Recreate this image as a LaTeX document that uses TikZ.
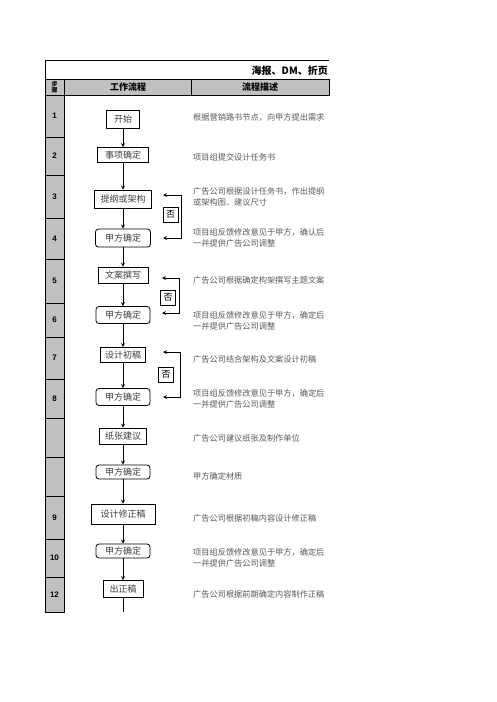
\documentclass[tikz,border=0pt]{standalone}
\usepackage{fontspec}
\setmainfont{Noto Sans CJK SC}
\newfontfamily\numfont{Liberation Sans}
\definecolor{cellgray}{HTML}{C0C0C0}
\begin{document}
\begin{tikzpicture}[x=1pt, y=-1pt,
    box/.style={rectangle, draw, line width=0.8pt, minimum height=16pt, inner xsep=4pt, inner ysep=1pt, font=\fontsize{9}{10}\selectfont, text=black!75},
    rbox/.style={box, rounded corners=3pt},
    nobox/.style={rectangle, draw, line width=0.7pt, inner sep=1.5pt, minimum width=15pt, minimum height=15pt, font=\fontsize{9}{10}\selectfont},
    arrow/.style={->, >=stealth, line width=0.8pt},
    backarrow/.style={<->, >=stealth, line width=0.8pt},
    desc/.style={anchor=west, align=left, inner sep=0pt, font=\fontsize{8.2}{11}\selectfont, text=black!65},
    stepnum/.style={font=\numfont\bfseries\fontsize{8}{9}\selectfont},
    head/.style={font=\bfseries\fontsize{9}{10}\selectfont},
    grid/.style={line width=0.8pt}
]
\fill[white] (0,0) rectangle (496,702);
\useasboundingbox (0,0) rectangle (496,702);

% 表头
\draw[grid] (45,79) -- (45,60) -- (329,60);
\draw[grid] (45,79) -- (329,79);
\node[anchor=east, font=\bfseries\fontsize{10}{11}\selectfont, inner sep=0pt] (title) at (328,71) {海报、DM、折页};
\filldraw[grid, fill=cellgray] (45,79) rectangle (329,95);
\draw[grid] (64,79) -- (64,95);
\draw[grid] (191,79) -- (191,95);
\node[align=center, inner sep=0pt, font=\bfseries\fontsize{6}{6.5}\selectfont] (stephead) at (54.5,87) {步\\骤};
\node[head] (flowhead) at (128,87) {工作流程};
\node[head] (deschead) at (260,87) {流程描述};

% 步骤列
\filldraw[grid, fill=cellgray] (45,95) rectangle (64,612);
\draw[grid] (45,137) -- (64,137);
\draw[grid] (45,175) -- (64,175);
\draw[grid] (45,218) -- (64,218);
\draw[grid] (45,259) -- (64,259);
\draw[grid] (45,303) -- (64,303);
\draw[grid] (45,337) -- (64,337);
\draw[grid] (45,379) -- (64,379);
\draw[grid] (45,418) -- (64,418);
\draw[grid] (45,457) -- (64,457);
\draw[grid] (45,496) -- (64,496);
\draw[grid] (45,539) -- (64,539);
\draw[grid] (45,577) -- (64,577);

\node[stepnum] (n1) at (54.5,116) {1};
\node[stepnum] (n2) at (54.5,156) {2};
\node[stepnum] (n3) at (54.5,196.5) {3};
\node[stepnum] (n4) at (54.5,238.5) {4};
\node[stepnum] (n5) at (54.5,281) {5};
\node[stepnum] (n6) at (54.5,320) {6};
\node[stepnum] (n7) at (54.5,358) {7};
\node[stepnum] (n8) at (54.5,398.5) {8};
\node[stepnum] (n9) at (54.5,517.5) {9};
\node[stepnum] (n10) at (54.5,558) {10};
\node[stepnum] (n12) at (54.5,594.5) {12};

% 工作流程
\node[box, minimum width=33pt, minimum height=18pt] (start) at (123,119) {开始};
\node[box, minimum width=51pt, minimum height=15pt] (task) at (123,155) {事项确定};
\node[box, minimum width=57pt, minimum height=18pt] (outline) at (123,199) {提纲或架构};
\node[rbox, minimum width=55pt, minimum height=18pt] (ok1) at (123,238) {甲方确定};
\node[box, minimum width=50pt] (copy) at (123,275) {文案撰写};
\node[rbox, minimum width=54pt, minimum height=17pt] (ok2) at (123,315) {甲方确定};
\node[box, minimum width=45pt, minimum height=15pt] (draft) at (123,355) {设计初稿};
\node[rbox, minimum width=54pt, minimum height=17pt] (ok3) at (123,397) {甲方确定};
\node[box, minimum width=47pt] (paper) at (123,436) {纸张建议};
\node[rbox, minimum width=54pt, minimum height=14pt] (ok4) at (123,472) {甲方确定};
\node[box, minimum width=64pt, minimum height=20pt] (revise) at (123,514) {设计修正稿};
\node[rbox, minimum width=54pt, minimum height=14pt] (ok5) at (123,551) {甲方确定};
\node[box, minimum width=40pt, minimum height=17pt] (final) at (123,589) {出正稿};
\coordinate (end) at (123,612);

\draw[arrow] (start) -- (task);
\draw[arrow] (task) -- (outline);
\draw[arrow] (outline) -- (ok1);
\draw[arrow] (ok1) -- (copy);
\draw[arrow] (copy) -- (ok2);
\draw[arrow] (ok2) -- (draft);
\draw[arrow] (draft) -- (ok3);
\draw[arrow] (ok3) -- (paper);
\draw[arrow] (paper) -- (ok4);
\draw[arrow] (ok4) -- (revise);
\draw[arrow] (revise) -- (ok5);
\draw[arrow] (ok5) -- (final);
\draw[line width=0.8pt] (final) -- (end);

% 否 返回
\coordinate (a1) at (163,195);
\coordinate (b1) at (163,238);
\coordinate (v1) at (181,0);
\draw[backarrow] (a1) -- (a1 -| v1) -- (b1 -| v1) -- (b1);
\node[nobox] (no1) at (170.5,214.5) {否};

\coordinate (a2) at (162,278);
\coordinate (b2) at (162,313);
\coordinate (v2) at (179,0);
\draw[backarrow] (a2) -- (a2 -| v2) -- (b2 -| v2) -- (b2);
\node[nobox] (no2) at (168,297.5) {否};

\coordinate (a3) at (163,352);
\coordinate (b3) at (163,397);
\coordinate (v3) at (180,0);
\draw[backarrow] (a3) -- (a3 -| v3) -- (b3 -| v3) -- (b3);
\node[nobox] (no3) at (166,374.5) {否};

% 流程描述
\node[desc] (d1) at (193,117) {根据营销路书节点，向甲方提出需求};
\node[desc] (d2) at (193,157) {项目组提交设计任务书};
\node[desc] (d3) at (193,197) {广告公司根据设计任务书，作出提纲\\或架构图、建议尺寸};
\node[desc] (d4) at (193,238) {项目组反馈修改意见于甲方，确认后\\一并提供广告公司调整};
\node[desc] (d5) at (193,280) {广告公司根据确定构架撰写主题文案};
\node[desc] (d6) at (193,320.5) {项目组反馈修改意见于甲方，确定后\\一并提供广告公司调整};
\node[desc] (d7) at (193,359) {广告公司结合架构及文案设计初稿};
\node[desc] (d8) at (193,398.5) {项目组反馈修改意见于甲方，确定后\\一并提供广告公司调整};
\node[desc] (d9) at (193,438) {广告公司建议纸张及制作单位};
\node[desc] (d10) at (193,476) {甲方确定材质};
\node[desc] (d11) at (193,518) {广告公司根据初稿内容设计修正稿};
\node[desc] (d12) at (193,558) {项目组反馈修改意见于甲方，确定后\\一并提供广告公司调整};
\node[desc] (d13) at (193,594) {广告公司根据前期确定内容制作正稿};

\end{tikzpicture}
\end{document}
